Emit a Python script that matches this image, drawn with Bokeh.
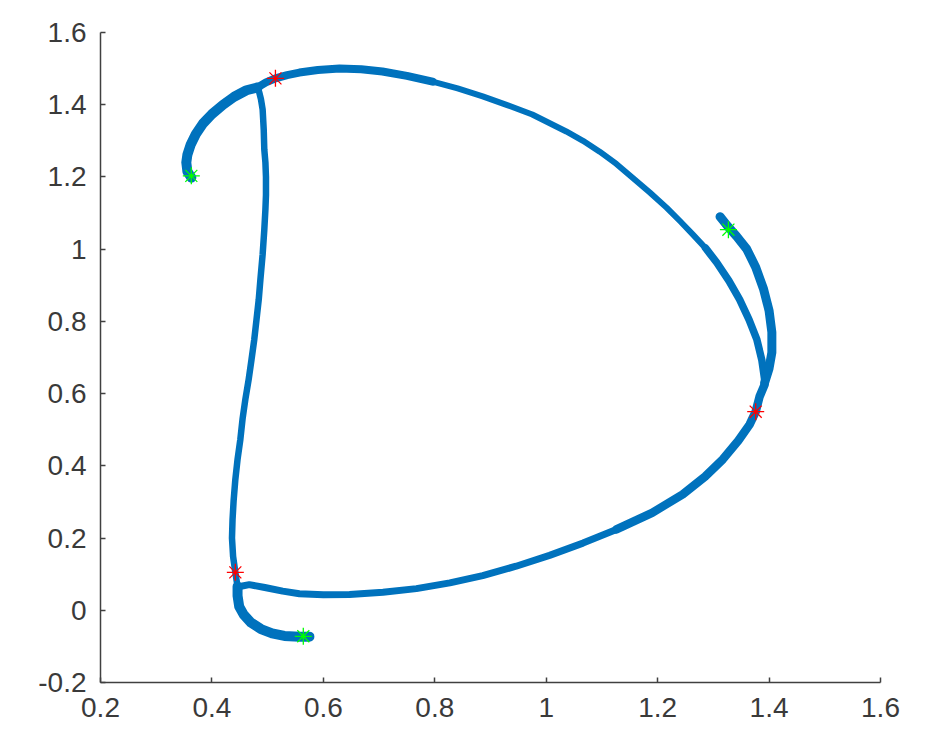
from bokeh.plotting import figure
from bokeh.models import FixedTicker
from bokeh.embed import file_html
from bokeh.resources import INLINE

# ---- data ----
tail1_x = [0.363, 0.356, 0.354, 0.356, 0.362, 0.371, 0.384, 0.400, 0.420, 0.440, 0.462, 0.482]
tail1_y = [1.198, 1.215, 1.240, 1.262, 1.290, 1.318, 1.348, 1.374, 1.400, 1.422, 1.440, 1.448]

top_x = [0.482, 0.497, 0.514, 0.535, 0.557, 0.590, 0.629, 0.668, 0.706, 0.750, 0.796,
         0.841, 0.886, 0.930, 0.975, 1.036, 1.066, 1.096, 1.126, 1.155, 1.186, 1.216,
         1.240, 1.263, 1.286, 1.306, 1.328, 1.347, 1.364, 1.378, 1.387, 1.392]
top_y = [1.448, 1.462, 1.473, 1.482, 1.489, 1.496, 1.500, 1.498, 1.492, 1.480, 1.464,
         1.445, 1.423, 1.399, 1.373, 1.326, 1.300, 1.270, 1.236, 1.198, 1.157, 1.115,
         1.078, 1.041, 1.003, 0.963, 0.912, 0.861, 0.805, 0.750, 0.693, 0.639]

tail2_x = [1.312, 1.325, 1.342, 1.360, 1.376, 1.390, 1.400, 1.405, 1.405, 1.400, 1.392]
tail2_y = [1.090, 1.065, 1.035, 1.000, 0.950, 0.890, 0.830, 0.770, 0.714, 0.670, 0.630]

bottom_x = [1.392, 1.383, 1.376, 1.365, 1.345, 1.317, 1.285, 1.245, 1.190, 1.126, 1.066,
            1.006, 0.946, 0.886, 0.827, 0.767, 0.707, 0.647, 0.600, 0.557, 0.527, 0.495,
            0.467, 0.450]
bottom_y = [0.625, 0.592, 0.550, 0.514, 0.470, 0.418, 0.370, 0.321, 0.270, 0.224, 0.186,
            0.152, 0.122, 0.096, 0.076, 0.060, 0.050, 0.044, 0.043, 0.046, 0.053, 0.063,
            0.071, 0.066]

left_x = [0.446, 0.442, 0.438, 0.436, 0.437, 0.439, 0.442, 0.446, 0.451, 0.455, 0.460,
          0.466, 0.471, 0.476, 0.480, 0.484, 0.487, 0.491, 0.494, 0.496, 0.497, 0.497,
          0.496, 0.494, 0.493, 0.491, 0.488, 0.485, 0.482]
left_y = [0.066, 0.105, 0.149, 0.200, 0.251, 0.305, 0.362, 0.418, 0.473, 0.530, 0.584,
          0.640, 0.694, 0.750, 0.805, 0.860, 0.916, 0.985, 1.054, 1.110, 1.150, 1.200,
          1.240, 1.276, 1.330, 1.387, 1.415, 1.434, 1.448]

tail3_x = [0.446, 0.446, 0.449, 0.457, 0.470, 0.488, 0.508, 0.530, 0.557, 0.575]
tail3_y = [0.066, 0.040, 0.010, -0.012, -0.034, -0.052, -0.064, -0.071, -0.073, -0.073]

red_x = [0.514, 1.376, 0.442]
red_y = [1.473, 0.550, 0.105]
green_x = [0.363, 1.327, 0.564]
green_y = [1.203, 1.054, -0.072]

x_ticks = [0.2, 0.4, 0.6, 0.8, 1.0, 1.2, 1.4, 1.6]
x_labels = ["0.2", "0.4", "0.6", "0.8", "1", "1.2", "1.4", "1.6"]
y_ticks = [-0.2, 0.0, 0.2, 0.4, 0.6, 0.8, 1.0, 1.2, 1.4, 1.6]
y_labels = ["-0.2", "0", "0.2", "0.4", "0.6", "0.8", "1", "1.2", "1.4", "1.6"]

# ---- figure ----
p = figure(frame_width=780, frame_height=650,
           x_range=(0.2, 1.6), y_range=(-0.2, 1.6),
           output_backend="svg", toolbar_location=None,
           min_border_left=100, min_border_top=32,
           min_border_right=35, min_border_bottom=45)
p.outline_line_color = None
p.grid.visible = False
p.background_fill_color = "white"
p.border_fill_color = "white"

blue = "#0072BD"
segments = [
    (top_x[:11], top_y[:11], 8),      # denser left part of the top arc
    (top_x[10:25], top_y[10:25], 6),  # sparse middle of the top arc
    (top_x[24:], top_y[24:], 7.5),
    (bottom_x[:10], bottom_y[:10], 8.5),
    (bottom_x[9:], bottom_y[9:], 7),
    (left_x, left_y, 6.5),
    (tail1_x, tail1_y, 10),
    (tail2_x, tail2_y, 9),
    (tail3_x, tail3_y, 10),
]
for xs, ys, w in segments:
    p.line(xs, ys, line_color=blue, line_width=w, line_cap="round", line_join="round")

p.scatter(red_x, red_y, marker="asterisk", size=17, line_color="#FF0000", line_width=1.3)
p.scatter(green_x, green_y, marker="asterisk", size=17, line_color="#00FF00", line_width=1.3)

for ax, ticks, labels in [(p.xaxis[0], x_ticks, x_labels), (p.yaxis[0], y_ticks, y_labels)]:
    ax.ticker = FixedTicker(ticks=ticks)
    ax.major_label_overrides = {t: l for t, l in zip(ticks, labels)}
    ax.minor_tick_line_color = None
    ax.major_tick_in = 5
    ax.major_tick_out = 0
    ax.axis_line_color = "#404040"
    ax.axis_line_width = 1.5
    ax.major_tick_line_color = "#404040"
    ax.major_tick_line_width = 1.5
    ax.major_label_text_font = "Liberation Sans"
    ax.major_label_text_font_size = "28px"
    ax.major_label_text_color = "#3a3a3a"

p.yaxis.major_label_standoff = 14
p.xaxis.major_label_standoff = 15

open("out.html", "w").write(file_html(p, INLINE))
